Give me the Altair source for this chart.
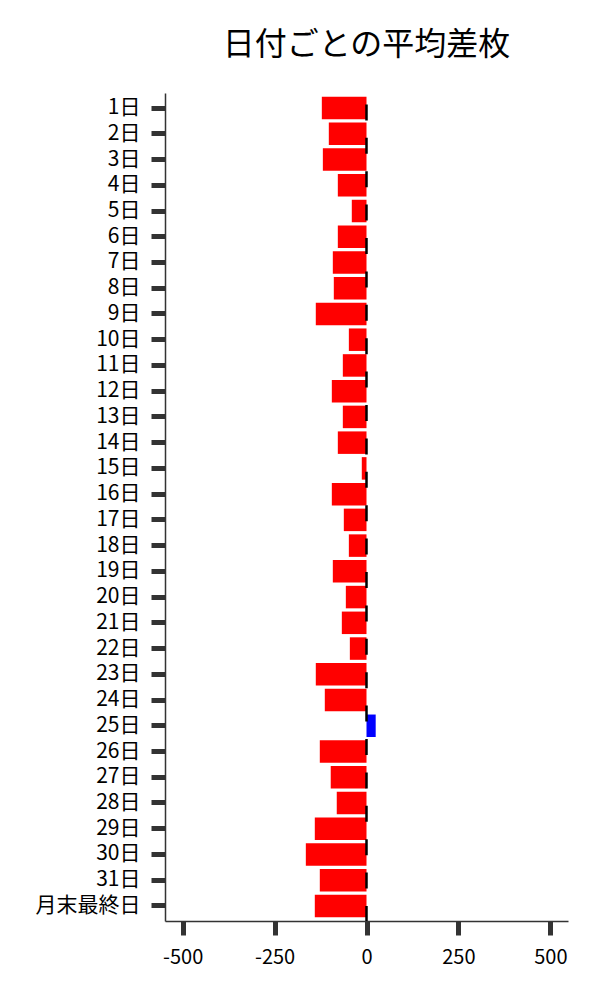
import altair as alt
import pandas as pd

days = [f"{i}日" for i in range(1, 32)] + ["月末最終日"]
values = [-121.5, -102.5, -118.7, -78, -40, -78, -91.6, -88.9, -137.9, -48,
          -64.4, -94.3, -64.4, -78, -12.8, -94.3, -61.7, -48, -91.6, -56.2,
          -67.1, -45.3, -137.9, -113.4, 25, -127, -97.3, -80.9, -140.6, -165,
          -127, -140.6]
x_ticks = [-500, -250, 0, 250, 500]

df = pd.DataFrame({"day": days, "value": values})
df["sign"] = ["pos" if v > 0 else "neg" for v in values]

W, H = 403, 828
FONT = "Noto Sans CJK JP"

bars = alt.Chart(df).mark_bar().encode(
    y=alt.Y("day:N", sort=days, title=None,
            scale=alt.Scale(paddingInner=0.126, paddingOuter=0.148),
            axis=alt.Axis(labelFontSize=21, labelColor="black", labelFont=FONT,
                          tickSize=14, tickWidth=5, tickColor="#333",
                          labelPadding=11, labelOverlap=False,
                          domainColor="#333", domainWidth=1.5, grid=False)),
    x=alt.X("value:Q", title=None,
            scale=alt.Scale(domain=[-548, 548], nice=False, zero=False),
            axis=alt.Axis(values=x_ticks, labelFontSize=20, labelColor="black",
                          labelFont=FONT, tickSize=14, tickWidth=5,
                          labelExpr="datum.value < 0 ? '-' + abs(datum.value) : '' + datum.value",
                          tickColor="#333", labelPadding=12, domainColor="#333",
                          domainWidth=1.5, grid=False)),
    color=alt.Color("sign:N", scale=alt.Scale(domain=["neg", "pos"],
                                              range=["#ff0000", "#0000ff"]),
                    legend=None),
)

zero = alt.Chart(pd.DataFrame({"z": [0]})).mark_rule(
    color="black", strokeWidth=2.5, strokeDash=[16, 17.4], strokeDashOffset=22
).encode(x="z:Q", y=alt.value(0), y2=alt.value(H))

chart = alt.layer(bars, zero).properties(
    width=W, height=H,
    title=alt.Title("日付ごとの平均差枚", fontSize=32, font=FONT,
                    fontWeight="normal", color="black", offset=30),
    autosize=alt.AutoSizeParams(type="none"),
    padding={"left": 157, "top": 85, "right": 20, "bottom": 50},
).configure_view(stroke=None)

chart.save("out.html", embed_options={"renderer": "svg", "actions": False})
